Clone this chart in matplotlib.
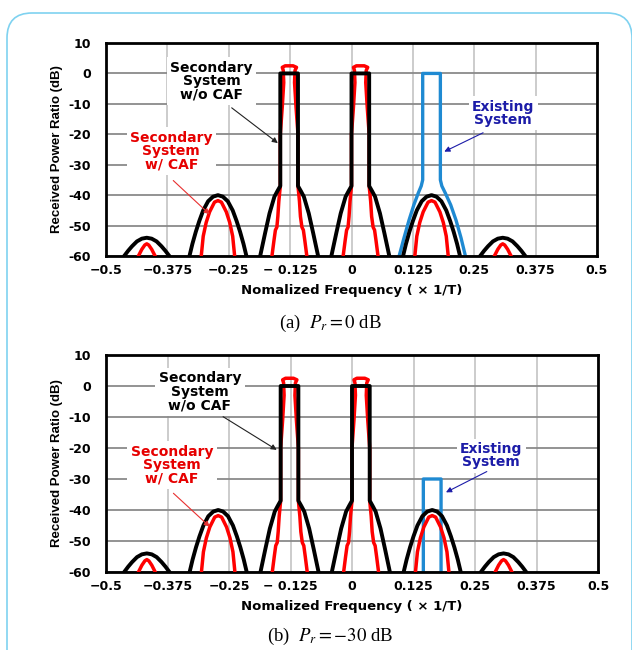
import numpy as np
import matplotlib.pyplot as plt
from matplotlib.patches import FancyBboxPatch

# Received power ratio of the existing system in each panel (dB)
pr_levels = [0, -30]
captions = ["(a)  $P_r = 0$ dB", "(b)  $P_r = -30$ dB"]

# Lobe centre frequencies (x 1/T)
secondary_centers = [-0.127, 0.018]
im3_centers = [-0.272, 0.163]
im5_centers = [-0.417, 0.308]
existing_center = 0.163

# Lobe shapes: offset from centre (x 1/T) and level (dB)
# secondary system w/o CAF (black)
main_wo_dx = [-0.068, -0.059, -0.049, -0.040, -0.030, -0.024, -0.018, -0.018,
              0.018, 0.018, 0.024, 0.030, 0.040, 0.049, 0.059, 0.068]
main_wo_db = [-66, -60, -52.5, -46, -40.5, -38.7, -37, 0,
              0, -37, -38.7, -40.5, -46, -52.5, -60, -66]
im3_wo_dx = [-0.066, -0.058, -0.052, -0.045, -0.038, -0.030, -0.020, -0.010, 0.0,
             0.010, 0.020, 0.030, 0.038, 0.045, 0.052, 0.058, 0.066]
im3_wo_db = [-66, -60, -56, -52, -48.5, -45, -42, -40.5, -40,
             -40.5, -42, -45, -48.5, -52, -56, -60, -66]
im5_wo_dx = [-0.054, -0.046, -0.038, -0.030, -0.020, -0.010, 0.0,
             0.010, 0.020, 0.030, 0.038, 0.046, 0.054]
im5_wo_db = [-62.5, -60, -58.3, -56.8, -55.2, -54.3, -54,
             -54.3, -55.2, -56.8, -58.3, -60, -62.5]

# secondary system w/ CAF (red)
main_w_dx = [-0.040, -0.035, -0.031, -0.028, -0.025, -0.023, -0.021, -0.018, -0.018,
             -0.014, -0.011, -0.012, -0.014, -0.008, 0.0, 0.008, 0.015, 0.012, 0.011,
             0.014, 0.018, 0.018, 0.021, 0.023, 0.026, 0.029, 0.032, 0.036, 0.041]
main_w_db = [-66, -60, -55, -51.5, -50.5, -47, -42, -37, -20,
             -11, -3, 1, 2, 2.5, 2.5, 2.5, 2, 1, -3,
             -11, -20, -37, -42, -47, -50.5, -51.5, -55, -60, -66]
im3_w_dx = [-0.040, -0.034, -0.030, -0.024, -0.017, -0.007, 0.0,
            0.007, 0.017, 0.024, 0.030, 0.034, 0.040]
im3_w_db = [-67, -60, -53.5, -49, -45.5, -42.3, -41.8,
            -42.3, -45.5, -49, -53.5, -60, -67]
im5_w_dx = [-0.025, -0.017, -0.010, -0.004, 0.0, 0.004, 0.010, 0.017, 0.025]
im5_w_db = [-63, -60, -57.8, -56.4, -56, -56.4, -57.8, -60, -63]

# existing system (blue), level relative to P_r
exist_dx = [-0.075, -0.066, -0.056, -0.046, -0.036, -0.027, -0.021, -0.018, -0.018,
            0.018, 0.018, 0.021, 0.028, 0.039, 0.050, 0.060, 0.069, 0.078]
exist_db = [-65, -60, -54, -48.3, -43.2, -39.3, -37, -35, 0,
            0, -35, -37, -39.3, -43.2, -48.3, -54, -60, -65]

x_ticks = [-0.5, -0.375, -0.25, -0.125, 0, 0.125, 0.25, 0.375, 0.5]
x_ticklabels = ["\u22120.5", "\u22120.375", "\u22120.25", "\u2212 0.125", "0",
                "0.125", "0.25", "0.375", "0.5"]
y_ticks = [10, 0, -10, -20, -30, -40, -50, -60]
y_ticklabels = ["10", "0", "-10", "-20", "-30", "-40", "-50", "-60"]

# annotation placement per panel: text centre, arrow tail, arrow tip
ann_wo = [((-0.285, -2.6), (-0.244, -11.3), (-0.150, -22.9)),
          ((-0.309, -1.9), (-0.262, -9.9), (-0.153, -20.6))]
ann_w = [((-0.367, -25.6), (-0.363, -35.2), (-0.289, -46.3)),
         ((-0.366, -25.5), (-0.363, -34.6), (-0.289, -45.4))]
ann_ex = [((0.309, -13.1), (0.268, -19.5), (0.189, -25.7)),
          ((0.283, -22.5), (0.274, -27.6), (0.191, -34.3))]


def lobes(centers, dx, db, offset=0.0):
    # join shifted copies of one lobe shape, broken by NaN
    xs, ys = [], []
    for c in centers:
        xs += [c + d for d in dx] + [np.nan]
        ys += [v + offset for v in db] + [np.nan]
    return xs, ys


fig = plt.figure(figsize=(6.32, 6.5), dpi=100)

border = FancyBboxPatch((0.07, -0.5), 6.25, 6.87,
                        boxstyle="round,pad=0,rounding_size=0.25",
                        transform=fig.dpi_scale_trans, fill=False,
                        ec="#7fd2f0", lw=1.2)
fig.patches.append(border)

axes_rects = [[106 / 632, 394 / 650, 491 / 632, 213 / 650],
              [106 / 632, 78 / 650, 492 / 632, 217 / 650]]
caption_y = [327 / 650, 14 / 650]
tick_font = dict(family="DejaVu Sans", weight="bold", size=9)

for k, pr in enumerate(pr_levels):
    ax = fig.add_axes(axes_rects[k])

    bx, by = lobes([existing_center], exist_dx, exist_db, pr)
    ax.plot(bx, by, color="#1f8ad2", lw=2.4, zorder=2)

    rx, ry = lobes(secondary_centers, main_w_dx, main_w_db)
    ax.plot(rx, ry, color="#ff0000", lw=2.5, zorder=3)
    rx, ry = lobes(im3_centers, im3_w_dx, im3_w_db)
    ax.plot(rx, ry, color="#ff0000", lw=2.5, zorder=3)
    rx, ry = lobes(im5_centers, im5_w_dx, im5_w_db)
    ax.plot(rx, ry, color="#ff0000", lw=2.5, zorder=3)

    kx, ky = lobes(secondary_centers, main_wo_dx, main_wo_db)
    ax.plot(kx, ky, color="black", lw=2.8, zorder=4)
    kx, ky = lobes(im3_centers, im3_wo_dx, im3_wo_db)
    ax.plot(kx, ky, color="black", lw=2.8, zorder=4)
    kx, ky = lobes(im5_centers, im5_wo_dx, im5_wo_db)
    ax.plot(kx, ky, color="black", lw=2.8, zorder=4)

    ax.set_xlim(-0.5, 0.5)
    ax.set_ylim(-60, 10)
    ax.set_xticks(x_ticks)
    ax.set_xticklabels(x_ticklabels, fontdict=tick_font)
    ax.set_yticks(y_ticks)
    ax.set_yticklabels(y_ticklabels, fontdict=tick_font)
    ax.tick_params(axis="both", length=0)
    ax.tick_params(axis="y", pad=11)
    ax.tick_params(axis="x", pad=6)
    ax.set_axisbelow(True)
    ax.grid(axis="y", color="#8a8a8a", lw=1.3)
    ax.grid(axis="x", color="#c8c8c8", lw=1.3)
    for s in ax.spines.values():
        s.set_linewidth(2.0)

    ax.set_ylabel("Received Power Ratio (dB)", family="Liberation Sans",
                  weight="bold", size=9.5, labelpad=4)
    ax.set_xlabel("Nomalized Frequency ( \u00d7 1/T)", family="DejaVu Sans",
                  weight="bold", size=9.5, labelpad=5)

    box = dict(fc="white", ec="none", pad=2.5)
    for (txt, col, acol), (tpos, tail, tip) in zip(
            [("Secondary\nSystem\nw/o CAF", "black", "#222222"),
             ("Secondary\nSystem\nw/ CAF", "#e60000", "#e83030"),
             ("Existing\nSystem", "#1c1ca8", "#1c1ca8")],
            [ann_wo[k], ann_w[k], ann_ex[k]]):
        ax.text(tpos[0], tpos[1], txt, color=col, ha="center", va="center",
                family="DejaVu Sans", weight="bold", size=10, linespacing=0.95,
                bbox=box, zorder=5)
        ax.annotate("", xy=tip, xytext=tail,
                    arrowprops=dict(arrowstyle="-|>", color=acol, lw=0.8,
                                    mutation_scale=8, shrinkA=0, shrinkB=0),
                    zorder=6)

    fig.text(330 / 632, caption_y[k], captions[k], ha="center", va="center",
             family="Liberation Serif", size=13.5,
             math_fontfamily="stix")

fig.savefig("out.png", dpi=100)
